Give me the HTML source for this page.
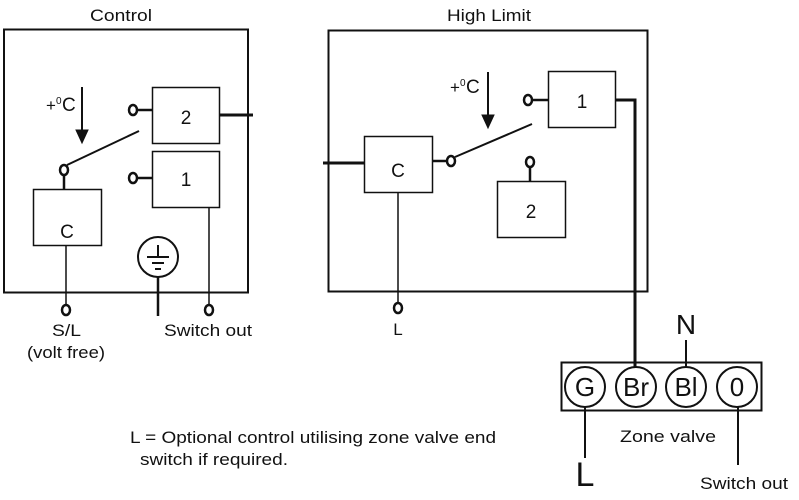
<!DOCTYPE html>
<html><head><meta charset="utf-8"><style>html,body{margin:0;padding:0;background:#fff}svg{display:block}</style></head>
<body>
<svg width="799" height="500" viewBox="0 0 799 500" xmlns="http://www.w3.org/2000/svg" font-family="Liberation Sans, Arial, sans-serif" fill="none" stroke="#111">
<!-- Control -->
<text x="90" y="21" font-size="17" fill="#111" stroke="none" textLength="62" lengthAdjust="spacingAndGlyphs">Control</text>
<rect x="4" y="29.5" width="244" height="263" stroke-width="2"/>
<rect x="152.5" y="87.5" width="67" height="56" stroke-width="1.5"/>
<rect x="152.5" y="151.5" width="67" height="56" stroke-width="1.5"/>
<rect x="33.5" y="189.5" width="68" height="56" stroke-width="1.5"/>
<text x="186" y="124" font-size="19" fill="#111" stroke="none" text-anchor="middle">2</text>
<text x="186" y="186" font-size="19" fill="#111" stroke="none" text-anchor="middle">1</text>
<text x="67" y="238" font-size="19" fill="#111" stroke="none" text-anchor="middle">C</text>
<line x1="220" y1="115" x2="253" y2="115" stroke-width="3"/>
<line x1="137" y1="110" x2="152" y2="110" stroke-width="2.5"/>
<ellipse cx="133" cy="110" rx="4" ry="5" stroke-width="2.5"/>
<line x1="137" y1="178" x2="152" y2="178" stroke-width="2.5"/>
<ellipse cx="133" cy="178" rx="4" ry="5" stroke-width="2.5"/>
<ellipse cx="64" cy="170" rx="4" ry="5" stroke-width="2.5"/>
<line x1="64" y1="175" x2="64" y2="189" stroke-width="2.5"/>
<line x1="67" y1="165" x2="139" y2="131" stroke-width="2"/>
<line x1="82" y1="87" x2="82" y2="130" stroke-width="2"/>
<polygon points="76,130 88,130 82,143" fill="#111"/>
<text x="46" y="111" font-size="17" fill="#111" stroke="none">+</text>
<text x="56" y="104" font-size="10" fill="#111" stroke="none">0</text>
<text x="62" y="111" font-size="19" fill="#111" stroke="none">C</text>
<line x1="66" y1="245" x2="66" y2="305" stroke-width="1.5"/>
<ellipse cx="66" cy="310" rx="4" ry="5" stroke-width="2.5"/>
<line x1="209" y1="207" x2="209" y2="305" stroke-width="1.5"/>
<ellipse cx="209" cy="310" rx="4" ry="5" stroke-width="2.5"/>
<circle cx="158" cy="257" r="20" stroke-width="2"/>
<line x1="147" y1="257" x2="169" y2="257" stroke-width="2"/>
<line x1="152" y1="263" x2="164" y2="263" stroke-width="2"/>
<line x1="155" y1="269" x2="161" y2="269" stroke-width="2"/>
<line x1="158" y1="245" x2="158" y2="257" stroke-width="2"/>
<line x1="158" y1="277" x2="158" y2="316" stroke-width="2.5"/>
<text x="52" y="336" font-size="17" fill="#111" stroke="none" textLength="29" lengthAdjust="spacingAndGlyphs">S/L</text>
<text x="27" y="358" font-size="17" fill="#111" stroke="none" textLength="78" lengthAdjust="spacingAndGlyphs">(volt free)</text>
<text x="164" y="336" font-size="17" fill="#111" stroke="none" textLength="88" lengthAdjust="spacingAndGlyphs">Switch out</text>
<!-- High Limit -->
<text x="447" y="21" font-size="17" fill="#111" stroke="none" textLength="84" lengthAdjust="spacingAndGlyphs">High Limit</text>
<rect x="328.5" y="30.5" width="319" height="261" stroke-width="2"/>
<rect x="364.5" y="136.5" width="68" height="56" stroke-width="1.5"/>
<rect x="548.5" y="71.5" width="67" height="56" stroke-width="1.5"/>
<rect x="497.5" y="181.5" width="68" height="56" stroke-width="1.5"/>
<text x="398" y="177" font-size="19" fill="#111" stroke="none" text-anchor="middle">C</text>
<text x="582" y="108" font-size="19" fill="#111" stroke="none" text-anchor="middle">1</text>
<text x="531" y="218" font-size="19" fill="#111" stroke="none" text-anchor="middle">2</text>
<line x1="323" y1="163" x2="365" y2="163" stroke-width="3"/>
<line x1="432" y1="161" x2="447" y2="161" stroke-width="2.5"/>
<ellipse cx="451" cy="161" rx="4" ry="5" stroke-width="2.5"/>
<line x1="455" y1="157" x2="532" y2="124" stroke-width="2"/>
<line x1="532" y1="100" x2="548" y2="100" stroke-width="2.5"/>
<ellipse cx="528" cy="100" rx="4" ry="5" stroke-width="2.5"/>
<ellipse cx="530" cy="162" rx="4" ry="5" stroke-width="2.5"/>
<line x1="530" y1="167" x2="530" y2="181" stroke-width="2.5"/>
<line x1="488" y1="72" x2="488" y2="115" stroke-width="2"/>
<polygon points="482,115 494,115 488,128" fill="#111"/>
<text x="450" y="93" font-size="17" fill="#111" stroke="none">+</text>
<text x="460" y="86" font-size="10" fill="#111" stroke="none">0</text>
<text x="466" y="93" font-size="19" fill="#111" stroke="none">C</text>
<polyline points="615,100 635,100 635,368" stroke-width="3"/>
<line x1="398" y1="193" x2="398" y2="303" stroke-width="1.5"/>
<ellipse cx="398" cy="308" rx="4" ry="5" stroke-width="2.5"/>
<text x="398" y="335" font-size="17" fill="#111" stroke="none" text-anchor="middle">L</text>
<!-- Zone valve -->
<rect x="561.5" y="362.5" width="200" height="48" stroke-width="2"/>
<g stroke-width="2">
<circle cx="585" cy="387" r="20"/><circle cx="636" cy="387" r="20"/>
<circle cx="686" cy="387" r="20"/><circle cx="737" cy="387" r="20"/>
</g>
<g font-size="26" fill="#111" stroke="none" text-anchor="middle">
<text x="585" y="396">G</text><text x="636" y="396">Br</text><text x="686" y="396">Bl</text><text x="737" y="396">0</text>
</g>
<line x1="686" y1="340" x2="686" y2="367" stroke-width="2"/>
<text x="686" y="334" font-size="28" fill="#111" stroke="none" text-anchor="middle">N</text>
<line x1="585" y1="407" x2="585" y2="458" stroke-width="2"/>
<text x="585" y="486" font-size="34" fill="#111" stroke="none" text-anchor="middle">L</text>
<line x1="738" y1="407" x2="738" y2="465" stroke-width="2"/>
<text x="700" y="489" font-size="17" fill="#111" stroke="none" textLength="88" lengthAdjust="spacingAndGlyphs">Switch out</text>
<text x="620" y="442" font-size="17" fill="#111" stroke="none" textLength="96" lengthAdjust="spacingAndGlyphs">Zone valve</text>
<text x="130" y="443" font-size="17" fill="#111" stroke="none" textLength="366" lengthAdjust="spacingAndGlyphs">L = Optional control utilising zone valve end</text>
<text x="140" y="465" font-size="17" fill="#111" stroke="none" textLength="148" lengthAdjust="spacingAndGlyphs">switch if required.</text>
</svg>
</body></html>
